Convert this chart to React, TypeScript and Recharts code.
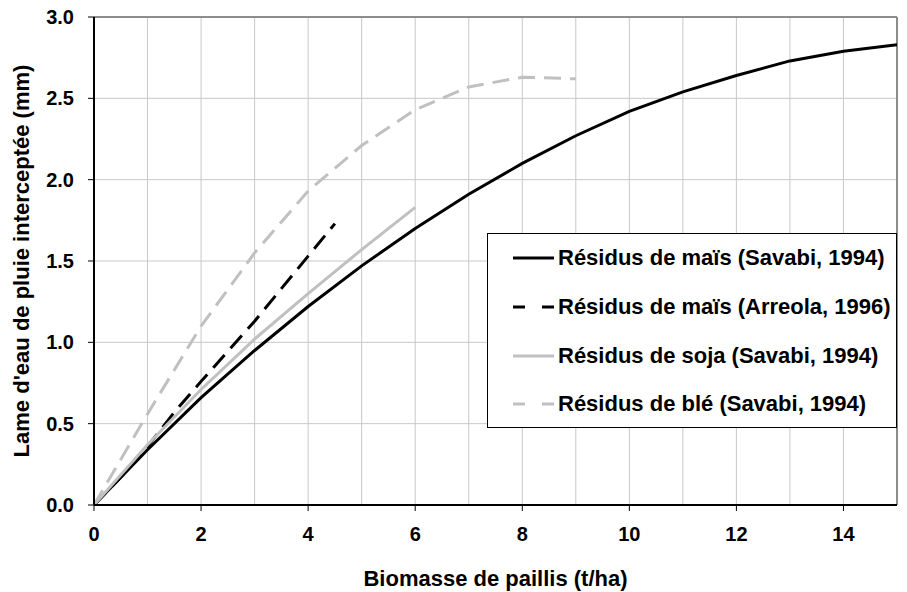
import React from 'react';
import { LineChart, Line, XAxis, YAxis, CartesianGrid, ReferenceLine, Legend, Label } from 'recharts';

const FONT = '"Liberation Sans", Arial, sans-serif';
const FS = 22;
const TFS = 20;

// X tick labels & gridlines
const xTicks = [0, 2, 4, 6, 8, 10, 12, 14];
const xGrid = [1, 2, 3, 4, 5, 6, 7, 8, 9, 10, 11, 12, 13, 14];
const yTicks = [0, 0.5, 1.0, 1.5, 2.0, 2.5, 3.0];

// Résidus de maïs (Savabi, 1994)
const maizeSavabiX = [0, 1, 2, 3, 4, 5, 6, 7, 8, 9, 10, 11, 12, 13, 14, 15];
const maizeSavabiY = [0, 0.34, 0.66, 0.95, 1.22, 1.47, 1.70, 1.91, 2.10, 2.27, 2.42, 2.54, 2.64, 2.73, 2.79, 2.83];

// Résidus de maïs (Arreola, 1996)
const maizeArreolaX = [0, 0.5, 1, 1.5, 2, 3, 4, 4.5];
const maizeArreolaY = [0, 0.17, 0.36, 0.57, 0.76, 1.13, 1.53, 1.73];

// Résidus de soja (Savabi, 1994)
const sojaX = [0, 1, 2, 3, 4, 5, 6];
const sojaY = [0, 0.37, 0.71, 1.02, 1.30, 1.57, 1.83];

// Résidus de blé (Savabi, 1994)
const bleX = [0, 1, 2, 3, 4, 5, 6, 7, 8, 9];
const bleY = [0, 0.56, 1.10, 1.55, 1.93, 2.21, 2.43, 2.57, 2.63, 2.62];

const zip = (xs: number[], ys: number[]) => xs.map((x, i) => ({ x, y: ys[i] }));

const series = [
  { name: 'Résidus de maïs (Savabi, 1994)', data: zip(maizeSavabiX, maizeSavabiY), color: '#000000', dash: undefined as string | undefined, legendDash: undefined as string | undefined },
  { name: 'Résidus de maïs (Arreola, 1996)', data: zip(maizeArreolaX, maizeArreolaY), color: '#000000', dash: '17 9', legendDash: '12 17' },
  { name: 'Résidus de soja (Savabi, 1994)', data: zip(sojaX, sojaY), color: '#c0c0c0', dash: undefined, legendDash: undefined },
  { name: 'Résidus de blé (Savabi, 1994)', data: zip(bleX, bleY), color: '#c0c0c0', dash: '17 9', legendDash: '12 17' },
];

const LegendBox = () => (
  <div
    style={{
      width: 410,
      height: 195,
      boxSizing: 'border-box',
      border: '1.5px solid #000',
      background: '#fff',
      paddingTop: 0,
    }}
  >
    {series.map((s) => (
      <div key={s.name} style={{ display: 'flex', alignItems: 'center', height: 48.7 }}>
        <svg width={70} height={20} style={{ display: 'block' }}>
          <line x1={25} x2={66} y1={10} y2={10} stroke={s.color} strokeWidth={3} strokeDasharray={s.legendDash} />
        </svg>
        <span style={{ fontFamily: FONT, fontWeight: 'bold', fontSize: FS, color: '#000', whiteSpace: 'nowrap' }}>{s.name}</span>
      </div>
    ))}
  </div>
);

const YLabel = (props: any) => {
  const vb = props.viewBox || {};
  const cy = vb.y + vb.height / 2;
  return (
    <text x={21} y={cy} transform={`rotate(-90, 21, ${cy})`} textAnchor="middle" dominantBaseline="central"
      style={{ fontFamily: FONT, fontWeight: 'bold', fontSize: FS, fill: '#000' }}>
      Lame d'eau de pluie interceptée (mm)
    </text>
  );
};

const XLabel = (props: any) => {
  const vb = props.viewBox || {};
  const cx = vb.x + vb.width / 2;
  return (
    <text x={cx} y={578} textAnchor="middle" dominantBaseline="central"
      style={{ fontFamily: FONT, fontWeight: 'bold', fontSize: FS, fill: '#000' }}>
      Biomasse de paillis (t/ha)
    </text>
  );
};

export default function App() {
  return (
    <div style={{ position: 'absolute', left: 0, top: 0, width: 907, height: 592, background: '#fff' }}>
      <LineChart width={907} height={592} margin={{ top: 17, right: 10, left: 0, bottom: 0 }}>
        <CartesianGrid vertical={false} stroke="#c8c8c8" strokeWidth={1} />
        {xGrid.map((v) => (
          <ReferenceLine key={v} x={v} stroke="#c8c8c8" strokeWidth={1} ifOverflow="visible" />
        ))}
        <ReferenceLine y={3} stroke="#8c8c8c" strokeWidth={2} />
        <ReferenceLine x={15} stroke="#8c8c8c" strokeWidth={2} />
        <XAxis
          type="number"
          dataKey="x"
          domain={[0, 15]}
          ticks={xTicks}
          allowDataOverflow
          height={87}
          tickSize={6}
          tickMargin={16}
          axisLine={{ stroke: '#000', strokeWidth: 2 }}
          tickLine={{ stroke: '#000', strokeWidth: 1 }}
          tick={{ fill: '#000', fontFamily: FONT, fontWeight: 'bold', fontSize: TFS }}
        >
          <Label content={<XLabel />} />
        </XAxis>
        <YAxis
          type="number"
          domain={[0, 3]}
          ticks={yTicks}
          allowDataOverflow
          width={94}
          tickSize={6}
          tickMargin={14}
          tickFormatter={(v: number) => v.toFixed(1)}
          axisLine={{ stroke: '#000', strokeWidth: 2 }}
          tickLine={{ stroke: '#000', strokeWidth: 1 }}
          tick={{ fill: '#000', fontFamily: FONT, fontWeight: 'bold', fontSize: TFS }}
        >
          <Label content={<YLabel />} />
        </YAxis>
        {series.map((s) => (
          <Line
            key={s.name}
            data={s.data}
            dataKey="y"
            name={s.name}
            type="linear"
            stroke={s.color}
            strokeWidth={3}
            strokeDasharray={s.dash}
            dot={false}
            activeDot={false}
            isAnimationActive={false}
          />
        ))}
        <Legend
          layout="vertical"
          align="center"
          verticalAlign="middle"
          content={<LegendBox />}
          wrapperStyle={{ left: 487, top: 233, width: 410, height: 195 }}
        />
      </LineChart>
    </div>
  );
}
